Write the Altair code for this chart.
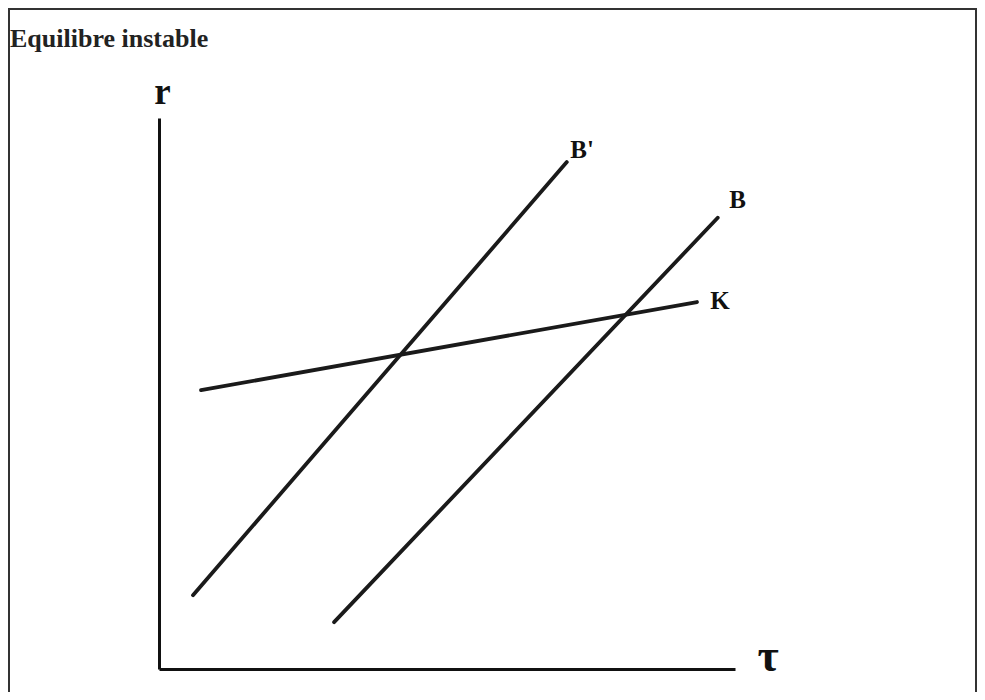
import altair as alt
import pandas as pd

# Line segments (τ, r) in abstract units, axes 0..10
curve = ["B'", "B'", "B", "B", "K", "K"]
tau = [0.59, 7.08, 3.04, 9.70, 0.73, 9.34]
r = [1.34, 9.20, 0.85, 8.19, 5.06, 6.66]

# Labels at line ends
label_text = ["B'", "B", "K"]
label_tau = [7.14, 9.90, 9.57]
label_r = [9.27, 8.37, 6.53]

title_text = ["Equilibre instable"]

lines_df = pd.DataFrame({"curve": curve, "tau": tau, "r": r})
labels_df = pd.DataFrame({"label": label_text, "tau": label_tau, "r": label_r})

W, H = 576, 551
SERIF = "Liberation Serif"

xscale = alt.Scale(domain=[0, 10], nice=False, zero=False)
yscale = alt.Scale(domain=[0, 10], nice=False, zero=False)

xaxis = alt.Axis(
    title="τ", ticks=False, labels=False, grid=False,
    domainColor="#111", domainWidth=3,
    titleFont=SERIF, titleFontSize=46, titleFontWeight="bold", titleColor="#111",
    titleX=W + 22, titleY=1, titleAlign="left", titleBaseline="alphabetic",
)
yaxis = alt.Axis(
    title="r", ticks=False, labels=False, grid=False,
    domainColor="#111", domainWidth=3,
    titleFont=SERIF, titleFontSize=37, titleFontWeight="bold", titleColor="#111",
    titleAngle=0, titleX=3, titleY=-15, titleAlign="center", titleBaseline="alphabetic",
)

frame = alt.Chart(pd.DataFrame({"a": [0]})).mark_rect(
    fill=None, stroke="#333", strokeWidth=2
).encode(
    x=alt.value(-150), x2=alt.value(W + 241),
    y=alt.value(-109), y2=alt.value(H + 80),
)

title = alt.Chart(pd.DataFrame({"t": title_text})).mark_text(
    font=SERIF, fontSize=26, fontWeight="bold", color="#222",
    align="left", baseline="alphabetic",
).encode(
    x=alt.value(-149), y=alt.value(-71), text="t:N",
)

lines = alt.Chart(lines_df).mark_line(
    color="#1a1a1a", strokeWidth=3.8, strokeCap="round"
).encode(
    x=alt.X("tau:Q", scale=xscale, axis=xaxis),
    y=alt.Y("r:Q", scale=yscale, axis=yaxis),
    detail="curve:N",
)

labels = alt.Chart(labels_df).mark_text(
    font=SERIF, fontSize=25, fontWeight="bold", color="#111",
    align="left", baseline="alphabetic",
).encode(
    x=alt.X("tau:Q", scale=xscale),
    y=alt.Y("r:Q", scale=yscale),
    text="label:N",
)

chart = alt.layer(frame, title, lines, labels).properties(
    width=W, height=H,
    background="white",
    autosize=alt.AutoSizeParams(type="none"),
    padding={"left": 151, "top": 110, "right": 242, "bottom": 23},
).configure_view(strokeWidth=0, stroke="transparent")

chart.save("out.html", embed_options={"renderer": "svg", "actions": False})
